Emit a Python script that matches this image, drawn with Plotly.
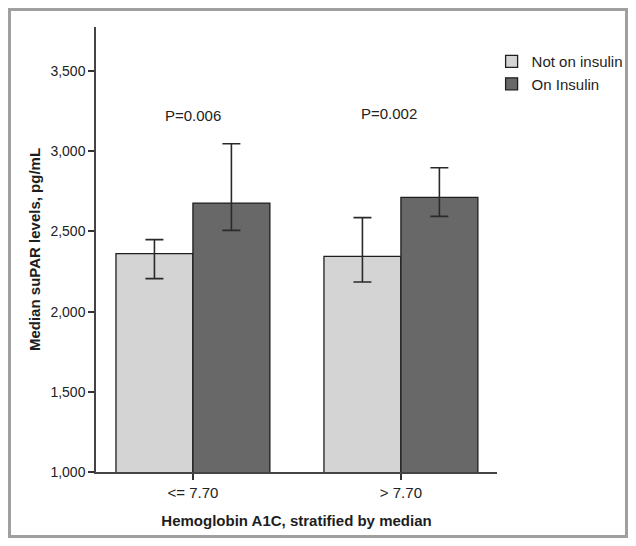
import plotly.graph_objects as go

categories = ["<= 7.70", "> 7.70"]
series_names = ["Not on insulin", "On Insulin"]
not_insulin = [2362, 2345]
not_insulin_hi = [2449, 2586]
not_insulin_lo = [2206, 2185]
on_insulin = [2677, 2712]
on_insulin_hi = [3047, 2897]
on_insulin_lo = [2507, 2594]
p_labels = ["P=0.006", "P=0.002"]
p_x = [0.0, 0.942]
p_y = [3223, 3235]
y_ticks = [1000, 1500, 2000, 2500, 3000, 3500]

FONT = "Arial, Liberation Sans, sans-serif"

# figure is 620x530; browser body margin (8px) places it at the reference position
W, H = 620, 530
L, R, T, B = 88, 131, 19, 66
PW, PH = W - L - R, H - T - B


def err(vals, hi, lo):
    return dict(type="data", symmetric=False,
                array=[h - v for h, v in zip(hi, vals)],
                arrayminus=[v - l for v, l in zip(vals, lo)],
                color="#2a2a2a", thickness=1.6, width=9)


fig = go.Figure()
fig.add_trace(go.Bar(x=categories, y=not_insulin, name=series_names[0],
                     marker=dict(color="#d4d4d4", line=dict(color="#1e1e1e", width=1.3)),
                     error_y=err(not_insulin, not_insulin_hi, not_insulin_lo)))
fig.add_trace(go.Bar(x=categories, y=on_insulin, name=series_names[1],
                     marker=dict(color="#686868", line=dict(color="#1e1e1e", width=1.3)),
                     error_y=err(on_insulin, on_insulin_hi, on_insulin_lo)))

for lab, xx, yy in zip(p_labels, p_x, p_y):
    fig.add_annotation(x=xx, y=yy, text=lab, showarrow=False,
                       font=dict(family=FONT, size=15, color="#222222"))

fig.add_shape(type="rect", xref="paper", yref="paper",
              x0=(1.5 - L) / PW, x1=(W - 1.5 - L) / PW,
              y0=-(B - 1.5) / PH, y1=(PH + T - 1.5) / PH,
              line=dict(color="#a0a0a0", width=3), fillcolor="rgba(0,0,0,0)", layer="below")

fig.update_layout(
    width=W, height=H,
    margin=dict(l=L, r=R, t=T, b=B, pad=0, autoexpand=False),
    paper_bgcolor="white", plot_bgcolor="white",
    barmode="group", bargap=0.26, bargroupgap=0,
    showlegend=True,
    legend=dict(xref="container", yref="container", x=0.780, y=0.930,
                xanchor="left", yanchor="top",
                font=dict(family=FONT, size=15, color="#1e1e1e"),
                bgcolor="rgba(0,0,0,0)", tracegroupgap=0, itemwidth=30),
    font=dict(family=FONT, size=14, color="#222222"),
    xaxis=dict(range=[-0.466, 1.462], showline=True, linecolor="#444444", linewidth=1.5,
               ticks="outside", ticklen=6, tickcolor="#333333", tickwidth=1.5,
               tickfont=dict(family=FONT, size=15, color="#222222"),
               title=dict(text="<b>Hemoglobin A1C, stratified by median</b>",
                          font=dict(family=FONT, size=15, color="#1e1e1e"), standoff=16),
               showgrid=False, zeroline=False),
    yaxis=dict(range=[1000, 3775], showline=True, linecolor="#444444", linewidth=1.5,
               ticks="outside", ticklen=6, tickcolor="#333333", tickwidth=1.5,
               tickvals=y_ticks, tickformat=",d",
               tickfont=dict(family=FONT, size=14, color="#222222"),
               title=dict(text="<b>Median suPAR levels, pg/mL</b>",
                          font=dict(family=FONT, size=15, color="#1e1e1e"), standoff=6),
               showgrid=False, zeroline=False),
)

fig.write_html("out.html")
